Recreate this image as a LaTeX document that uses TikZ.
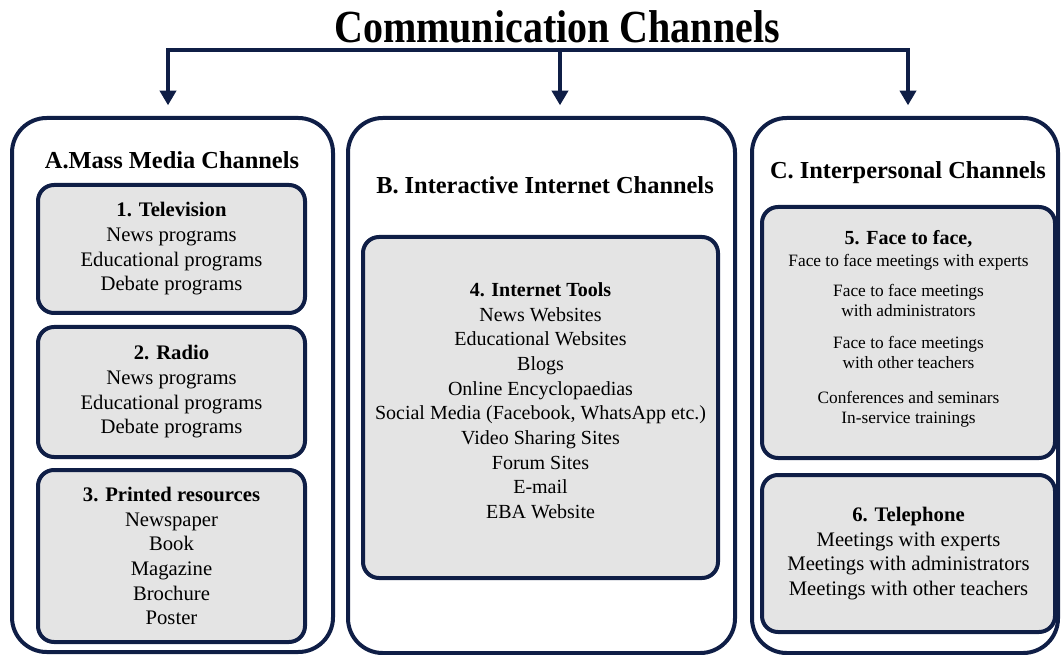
\documentclass[tikz,border=0pt]{standalone}
\usepackage{fontspec}
\setmainfont{Liberation Serif}
\usetikzlibrary{arrows.meta,positioning}
\definecolor{navy}{HTML}{0F1E46}
\definecolor{boxgray}{HTML}{E4E4E4}

\begin{document}
\begin{tikzpicture}[x = 0.75pt, y = -0.75pt, line width = 3pt, outer/.style = {draw = navy, rounded corners = 26pt, inner sep = 0pt}, inner/.style = {draw = navy, fill = boxgray, rounded corners = 12pt, align = center, inner sep = 0pt, font = \fontsize{15.5}{18.5}\selectfont}, head/.style = {font = \bfseries\fontsize{18.3}{22}\selectfont}, feed/.style = {draw = navy, -{Triangle[width = 12pt, length = 11pt]}, shorten > = 8pt}]
\useasboundingbox (0,0) rectangle (1063,655);

\node[font = \bfseries\fontsize{30}{36}\selectfont] (title) at (557,27) {\scalebox{1}[1.15]{Communication Channels}};

% the three channel groups
\node[outer, minimum width = 240.75pt, minimum height = 400.5pt] (mass) at (172.5,385) {};
\node[outer, minimum width = 290.25pt, minimum height = 401.25pt] (web) at (541.5,385.5) {};
\node[outer, minimum width = 229.5pt, minimum height = 401.25pt] (people) at (905,385.5) {};

\node[head] (headA) at (172,160) {A.Mass Media Channels};
\node[head] (headB) at (545,185) {B. Interactive Internet Channels};
\node[head] (headC) at (908,173) {C. Interpersonal Channels};

% A
\node[inner, minimum width = 200.25pt, minimum height = 96pt] (tv) at (171.5,249) {\textbf{1. Television}\\News programs\\Educational programs\\Debate programs};
\node[inner, minimum width = 200.25pt, minimum height = 97.5pt, below = 7.5pt of tv] (radio) {\textbf{2. Radio}\\News programs\\Educational programs\\Debate programs};
\node[inner, minimum width = 200.25pt, minimum height = 129pt, below = 6.75pt of radio] (print) {\textbf{3. Printed resources}\\Newspaper\\Book\\Magazine\\Brochure\\Poster};

% B
\node[inner, minimum width = 266.25pt, minimum height = 255.75pt, font = \fontsize{15}{18.5}\selectfont] (tools) at (540.5,407.5) {\textbf{4. Internet Tools}\\News Websites\\Educational Websites\\Blogs\\Online Encyclopaedias\\Social Media (Facebook, WhatsApp etc.)\\Video Sharing Sites\\Forum Sites\\E-mail\\EBA Website\\[-8pt]\mbox{}};

% C
\node[inner, minimum width = 219.75pt, minimum height = 188.25pt, font = \fontsize{13}{15}\selectfont] (face) at (908.5,332.5) {{\bfseries\fontsize{15}{18}\selectfont 5. Face to face,}\\[1.5pt]Face to face meetings with experts\\[7.5pt]Face to face meetings\\with administrators\\[9pt]Face to face meetings\\with other teachers\\[11pt]Conferences and seminars\\In-service trainings\\[-7pt]\mbox{}};
\node[inner, minimum width = 219.75pt, minimum height = 117.75pt, below = 9.75pt of face] (phone) {\textbf{6. Telephone}\\Meetings with experts\\Meetings with administrators\\Meetings with other teachers};

% bar and arrows
\coordinate (barA) at (168,50);
\coordinate (barB) at (560,50);
\coordinate (barC) at (908,50);
\draw[navy, line cap = rect] (barA) -- (barC);
\draw[feed] (barA) -- (barA |- mass.north);
\draw[feed] (barB) -- (barB |- web.north);
\draw[feed] (barC) -- (barC |- people.north);
\end{tikzpicture}
\end{document}
